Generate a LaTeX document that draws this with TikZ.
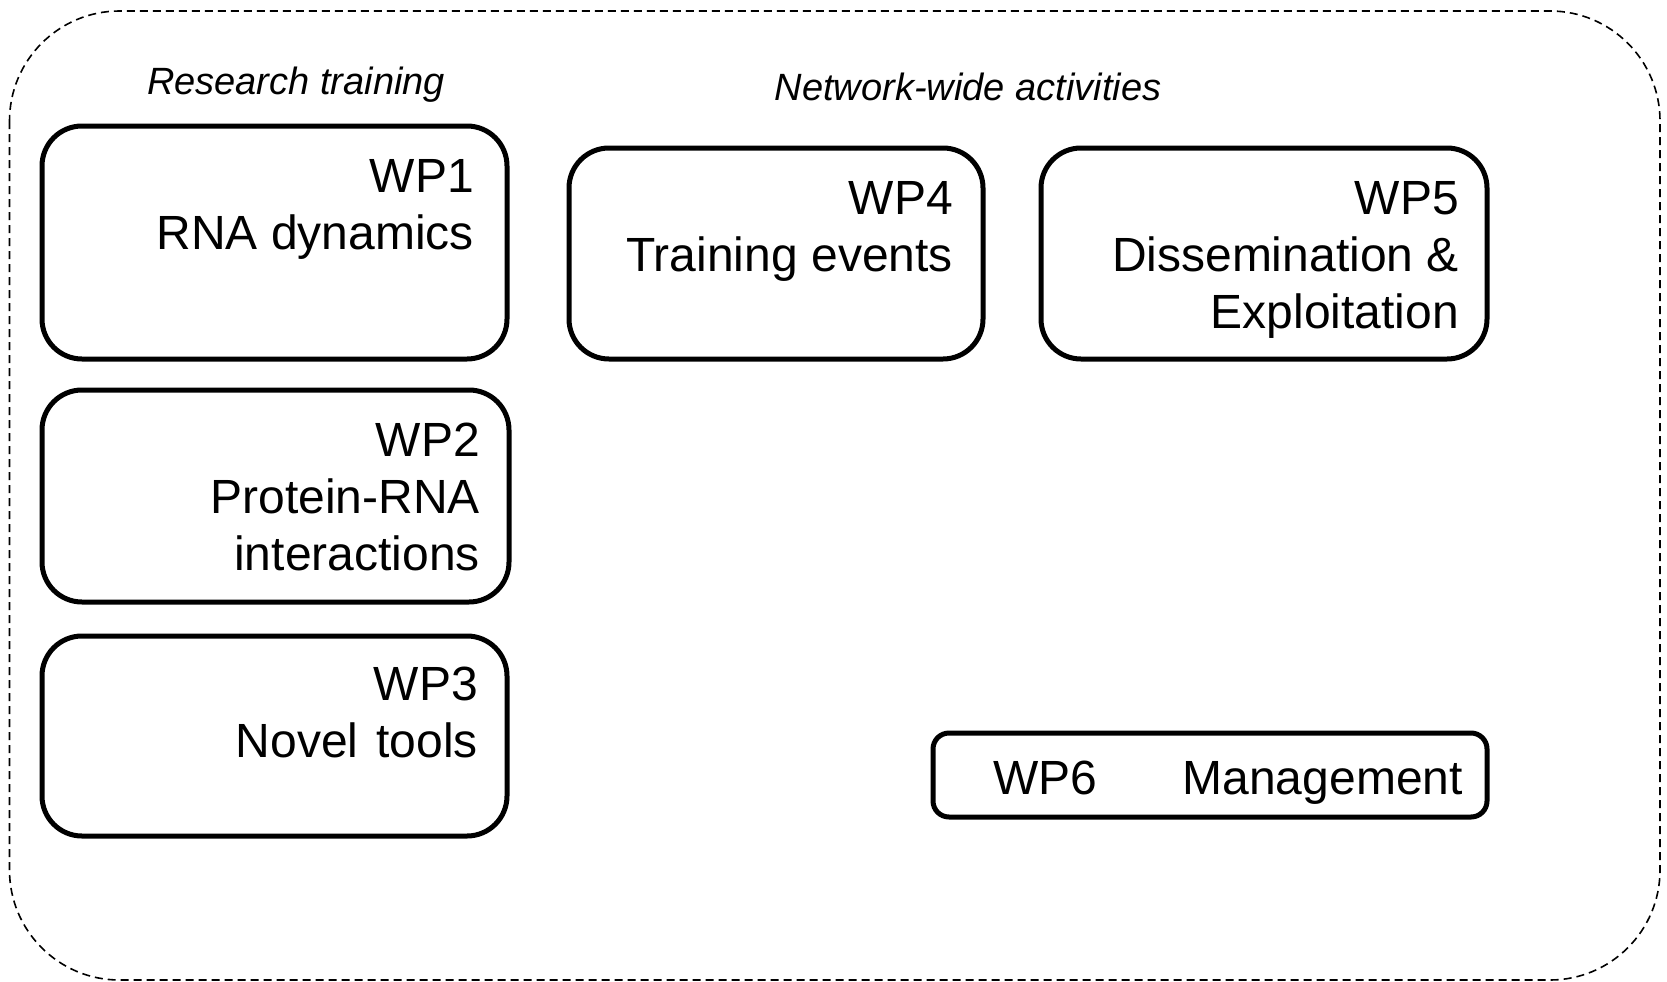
\documentclass[tikz,border=0pt]{standalone}
\usepackage{fontspec}
\setmainfont{Liberation Sans}
\begin{document}
\begin{tikzpicture}[x=1pt,y=-1pt,
  wpbox/.style={draw=black,line width=5pt,rounded corners=40pt},
  wpsmall/.style={draw=black,line width=5pt,rounded corners=16pt},
  wptext/.style={anchor=north east,inner sep=0pt,align=right,font=\fontsize{48}{57}\selectfont},
  headtext/.style={anchor=base,inner sep=0pt,font=\fontsize{38}{44}\selectfont\itshape},
  outer/.style={draw=black,line width=1.6pt,dash pattern=on 8pt off 5pt,rounded corners=110pt}]
\useasboundingbox (0,0) rectangle (1667,982);
\path[outer] (9.5,11) rectangle (1660,980);
\node[headtext] (h1) at (296,94) {Research training};
\node[headtext] (h2) at (968,100) {Network-wide activities};
\draw[wpbox] (42,126) rectangle (507,359) node[pos=0.5] (wp1box) {};
\draw[wpbox] (42,390) rectangle (509,602) node[pos=0.5] (wp2box) {};
\draw[wpbox] (42,636) rectangle (507,836) node[pos=0.5] (wp3box) {};
\draw[wpbox] (569,148) rectangle (983,359) node[pos=0.5] (wp4box) {};
\draw[wpbox] (1041,148) rectangle (1487,359) node[pos=0.5] (wp5box) {};
\draw[wpsmall] (933,733) rectangle (1487,817) node[pos=0.5] (wp6box) {};
\node[wptext] (wp1) at (474,159) {WP1\\RNA dynamics};
\node[wptext] (wp2) at (480,423) {WP2\\Protein-RNA\\interactions};
\node[wptext] (wp3) at (478,667) {WP3\\Novel\hspace{18pt}tools};
\node[wptext] (wp4) at (953,181) {WP4\\Training events};
\node[wptext] (wp5) at (1459,181) {WP5\\Dissemination \&\\Exploitation};
\node[wptext,anchor=base east] (wp6) at (1463,794) {WP6\hspace{85pt}Management};
\end{tikzpicture}
\end{document}
